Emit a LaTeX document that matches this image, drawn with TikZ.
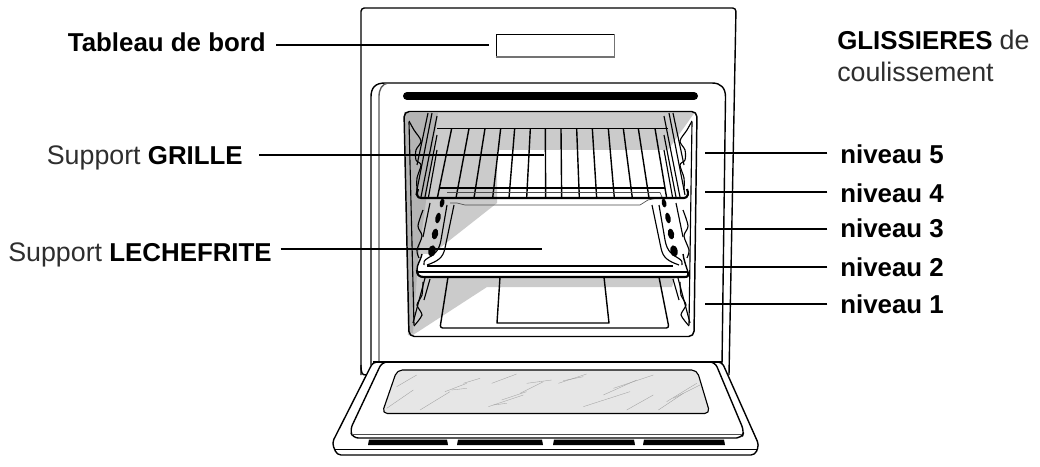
\documentclass[tikz,border=0pt]{standalone}
\usepackage{fontspec}
\setmainfont{Liberation Sans}
\usetikzlibrary{calc}
\definecolor{gLight}{HTML}{CBCBCB}
\definecolor{gDark}{HTML}{B4B4B4}
\definecolor{glass}{HTML}{E6E6E6}
\tikzset{
  x=0.75pt,y=-0.75pt,
  oven/.style={line width=1.05pt,black,line join=round},
  thick line/.style={line width=1.6pt,black,line join=round},
  fine/.style={line width=0.85pt,black,line join=round},
  leader/.style={line width=1.3pt,black},
  scratch/.style={line width=0.25pt,black!38},
  lab/.style={anchor=base west,inner sep=0pt,font=\fontsize{19.4}{23}\selectfont,text=black},
  labr/.style={anchor=base east,inner sep=0pt,font=\fontsize{19.4}{23}\selectfont,text=black},
  hole/.style={fill=black,draw=none}
}
\newcommand{\lite}[1]{{\fontsize{20.1}{23}\selectfont\color{black!82}#1}}
\newcommand{\upperrail}{%
  \draw[fine] (428,113)--(417,165);
  \draw[fine] (432,113)--(416,195);
  \draw[fine] (437,116)--(421,197);
  \draw[fine] (437,135)--(425,197);
  \draw[fine] (437,150)--(428.5,197);
  \draw[fine] plot[smooth,tension=0.5] coordinates {(409,121)(414,130)(421,141)(416,150)(416,160)(421,165)(417,178)(417,190)};
}
\newcommand{\lowerrail}{%
  \draw[fine] (454,205)--(445,248) .. controls (443,258) and (438,261) .. (427,265);
  \draw[fine] (447,205)--(441,240) .. controls (439,252) and (433,255) .. (428,258) .. controls (424,260) and (423,263) .. (424,265);
  \draw[fine] (430,203)--(423,237);
  \draw[fine] plot[smooth,tension=0.5] coordinates {(423,210)(418,226)(422,236)(417,250)(419,258)};
  \path[hole] (442,203) ellipse[x radius=2.3,y radius=4.5,rotate=-12];
  \path[hole] (438,218) ellipse[x radius=2.6,y radius=5.5,rotate=-12];
  \path[hole] (435,234) ellipse[x radius=3.1,y radius=5.5,rotate=-12];
  \path[hole] (432,251) ellipse[x radius=3.6,y radius=5.8,rotate=-12];
}
\newcommand{\bottomrail}{%
  \draw[fine] (425,278)--(413,323);
  \draw[fine] (430,279)--(424,300);
  \draw[fine] plot[smooth,tension=0.4] coordinates {(423,282)(422,295)(417,305)(422,315)(414,326)};
}
\begin{document}
\begin{tikzpicture}
\useasboundingbox (0,0) rectangle (1040,467);
\fill[white] (0,0) rectangle (1040,467);
% outer panel
\draw[oven] (361,375) -- (361,11) [rounded corners=2.5pt] -- (361,8) -- (736,8) -- (729,375);
\draw[oven] (361,365) .. controls (361,373) and (362,375) .. (366,375);
% control panel
\draw[line width=0.7pt] (496,34.5) rectangle (614.5,57);
\draw[line width=0.9pt,black!55] (496,57) -- (614.5,57) -- (614.5,34.5);
% frame
\draw[oven] (371,365) -- (371,97) .. controls (371,88) and (375,83) .. (385,83) -- (712,83) .. controls (721,83) and (725.5,88) .. (725.5,97) -- (722,365);
\draw[line width=1pt,black!65] (379,365) -- (379,97) .. controls (379,89) and (382,84) .. (388,83);
% heat bar
\draw[line width=6pt,line cap=round,black] (407,96) -- (694,96);
% cavity
\path[fill=white,rounded corners=4pt] (404,111.5) -- (697,111.5) -- (694,336.5) -- (409,336.5) -- cycle;
\fill[gLight] (404,112) -- (695,112) -- (668,150) -- (497,150) -- (497,203) -- (422,262) -- (422,277) -- (675,277) -- (672,287) -- (487,287) -- (413,335) -- (408,335) -- cycle;
\fill[gDark] (405,113) -- (438,113) -- (418,260) -- (413,333) -- (409,333) -- cycle;
\draw[line width=1.1pt,black,rounded corners=4pt] (404,111.5) -- (697,111.5) -- (694,336.5) -- (409,336.5) -- cycle;
\draw[fine] (409,122) -- (414,325);
\draw[fine] (692,122) -- (689,325);
% rails
\upperrail
\begin{scope}[shift={(1101,0)},xscale=-1]\upperrail\end{scope}
\bottomrail
\begin{scope}[shift={(1103,0)},xscale=-1]\bottomrail\end{scope}
% grille
\draw[oven] (437,128.5) -- (668,128.5);
\foreach \a/\b in {305/262,357/318,405/372,452/428,494/477,541/530,586/587,633/635,680/688,727/740,775/793,820/847,865/897,915/950}
  \draw[oven] ({350+\a/3},128.5) -- ({350+\b/3},198);
\draw[oven] (440,188) -- (665,188);
\draw[line width=0.5pt,black!70] (447,192.5) -- (660,192.5) -- (662,197) -- (648,200) -- (640,205) -- (465,205) -- (457,203) -- (450,203);
\draw[thick line] (418,189) .. controls (416,194) and (417,198) .. (421,198) -- (684,198) .. controls (688,198) and (689,193) .. (687,189);
% floor pan below (outline only: the shadow band shows through)
\draw[oven,rounded corners=2pt] (448,277) -- (440,328) -- (669,328) -- (659,277);
\draw[oven] (500,277) -- (497,323) -- (609,323) -- (604,277);
% lechefrite
\fill[white] (421,254) -- (684,254) -- (688,272) -- (688,277) -- (418,277) -- (417,270) -- cycle;
\draw[oven] (422,254) .. controls (420,262) and (417,264) .. (417,270);
\draw[oven] (683,254) .. controls (684,260) and (685,263) .. (688,272);
\draw[line width=0.9pt] (418,272) -- (688,272);
\draw[thick line] (427,266) -- (673,266);
\lowerrail
\begin{scope}[shift={(1106,0)},xscale=-1]\lowerrail\end{scope}
\draw[thick line] (417,270) .. controls (417,275) and (419,277) .. (424,277) -- (685,277) .. controls (688,277) and (689,275) .. (688,272);
% door
\draw[oven,fill=white,rounded corners=3pt] (373,362) -- (332,443) -- (337,455) -- (755,455) -- (759,445) -- (722,362) -- cycle;
\draw[line width=0.8pt] (334,449.5) -- (757,449.5);
\draw[oven,fill=white,rounded corners=4pt] (382,362) -- (350,430) -- (353,438) -- (742,438) -- (744,431) -- (715,362) -- cycle;
\draw[line width=0.7pt,black!70] (352,434) -- (741,434);
\draw[thick line] (373,362) -- (722,362);
\foreach \l/\r in {368/447,457/542,553/634,643/724}
  \fill[black] (\l+1,439.5) -- (\r,439.5) -- (\r+1,445) -- (\l,445) -- cycle;
\draw[fine,fill=glass,rounded corners=4pt] (397,370) -- (697,370) -- (710,413.5) -- (382,413.5) -- cycle;
\begin{scope}[shift={(320,350)},scale=1/3]
\foreach \p/\q in {{(230,110)}/{(290,75)},{(375,125)}/{(440,100)},{(430,100)}/{(480,85)},{(515,100)}/{(590,72)},{(395,120)}/{(440,115)},{(600,130)}/{(670,95)},{(620,100)}/{(695,90)},{(715,100)}/{(800,72)},{(730,92)}/{(790,80)},{(505,170)}/{(610,135)},{(545,150)}/{(620,125)},{(520,165)}/{(560,160)},{(850,135)}/{(950,90)},{(880,115)}/{(1000,75)},{(790,170)}/{(930,125)},{(1015,180)}/{(1090,130)},{(1040,155)}/{(1130,100)},{(300,180)}/{(390,125)},{(920,180)}/{(1000,135)},{(1060,145)}/{(1140,105)},{(200,175)}/{(280,120)}}
  \draw[scratch] \p -- \q;
\end{scope}
% labels
\node[labr] (ltab) at (266,52) {\textbf{Tableau de bord}};
\node[labr] (lgri) at (243,164.5) {\lite{Support} \textbf{GRILLE}};
\node[labr] (llec) at (272,261.5) {\lite{Support} \textbf{LECHEFRITE}};
\node[lab] (lgl1) at (837,50) {\textbf{GLISSIERES} \lite{de}};
\node[lab] (lgl2) at (837,82) {\lite{coulissement}};
\node[lab] (n5) at (840,163) {\textbf{niveau 5}};
\node[lab] (n4) at (840,202) {\textbf{niveau 4}};
\node[lab] (n3) at (840,238) {\textbf{niveau 3}};
\node[lab] (n2) at (840,276) {\textbf{niveau 2}};
\node[lab] (n1) at (840,313) {\textbf{niveau 1}};
% leader ends
\coordinate (etab) at (489,45);
\coordinate (egri) at (544,155);
\coordinate (elec) at (542,249);
\coordinate (e5) at (705,153);
\coordinate (e4) at (705,192);
\coordinate (e3) at (705,229);
\coordinate (e2) at (705,267);
\coordinate (e1) at (705,304);
\draw[leader,shorten <=7.5pt] (ltab.east |- etab) -- (etab);
\draw[leader,shorten <=12pt] (lgri.east |- egri) -- (egri);
\draw[leader,shorten <=6.5pt] (llec.east |- elec) -- (elec);
\foreach \n/\e in {n5/e5,n4/e4,n3/e3,n2/e2,n1/e1}
  \draw[leader,shorten <=9.5pt] (\n.west |- \e) -- (\e);
\end{tikzpicture}
\end{document}
